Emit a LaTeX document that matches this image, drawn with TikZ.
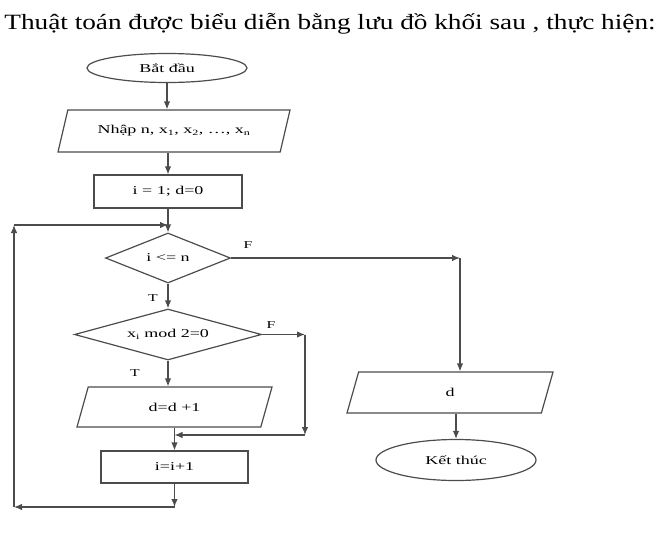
\documentclass[tikz,border=0pt]{standalone}
\usepackage{fontspec}
\setmainfont{Liberation Serif}
\newfontfamily\widefont[FakeStretch=1.5]{Liberation Serif}
\newfontfamily\titlefont[FakeStretch=1.25]{Liberation Serif}
\usetikzlibrary{shapes.geometric, arrows.meta}
\tikzset{
line/.style={draw=black!70, line width=1.2pt}, % every connector
arr/.style={line, -{Latex[length=8pt,width=6.5pt]}}, % connector with a filled head
box/.style={line, font=\widefont\fontsize{12}{14}\selectfont, inner sep=0pt}, % sets the look of every block
}

\begin{document}
\begin{tikzpicture}[x=1pt, y=-1pt,
    term/.style = {box, ellipse},
    io/.style = {box, trapezium, trapezium stretches body},
    proc/.style = {box, rectangle},
    test/.style = {box, diamond},
    tag/.style = {font=\widefont\fontsize{10.5}{12}\selectfont}]
    \useasboundingbox (0,0) rectangle (666,541);
    \node[font=\titlefont\fontsize{21.8}{24}\selectfont] (title) at (330,24) {Thuật toán được biểu diễn bằng lưu đồ khối sau , thực hiện:};

    \node[term, minimum width=160pt, minimum height=29pt] (start) at (167,68) {Bắt đầu};
    \node[io, minimum width=232pt, minimum height=42pt, trapezium left angle=48, trapezium right angle=132] (input) at (174,131) {Nhập n, x\textsubscript{1}, x\textsubscript{2}, \dots, x\textsubscript{n}};
    \node[proc, minimum width=148pt, minimum height=33pt] (init) at (168,191.5) {i = 1; d=0};
    \node[test, aspect=2.5, minimum width=125pt, minimum height=50pt] (cond) at (168,258) {i <= n};
    \node[test, aspect=3.7, minimum width=187pt, minimum height=51pt] (even) at (168,334.5) {x\textsubscript{i} mod 2=0};
    \node[io, minimum width=195pt, minimum height=40pt, trapezium left angle=37, trapezium right angle=143] (inc) at (174.5,407) {d=d +1};
    \node[proc, minimum width=147pt, minimum height=32pt] (step) at (174.5,467) {i=i+1};
    \node[io, minimum width=206pt, minimum height=41pt, trapezium left angle=36, trapezium right angle=144] (out) at (450,392.5) {d};
    \node[term, minimum width=160pt, minimum height=41pt] (end) at (456,460) {Kết thúc};

    \node[tag] (f1) at (248,245) {F};
    \node[tag] (t1) at (153,298) {T};
    \node[tag] (f2) at (271,325) {F};
    \node[tag] (t2) at (135,373) {T};

    \coordinate (j1) at (168,225);
    \coordinate (r1) at (460,258);
    \coordinate (r2) at (305,334.5);
    \coordinate (r3) at (305,435);
    \coordinate (b1) at (174.5,507);
    \coordinate (b2) at (14,507);
    \coordinate (b3) at (14,225);

    \draw[arr] (start.south) -- (start.south |- input.north);
    \draw[arr] (init.north |- input.south) -- (init.north);
    \draw[arr] (init.south) -- (cond.north);
    \draw[arr] (cond.south) -- (even.north);
    \draw[arr] (even.south) -- (even.south |- inc.north);
    \draw[arr] (inc.south) -- (inc.south |- step.north);
    \draw[arr] (cond.east) -- (r1);
    \draw[arr] (r1) -- (r1 |- out.north);
    \draw[arr] (end.north |- out.south) -- (end.north);
    \draw[arr] (even.east) -- (r2);
    \draw[arr] (r2) -- (r3);
    \draw[arr] (r3) -- (r3 -| inc.south);
    \draw[arr] (step.south) -- (b1);
    \draw[arr] (b1) -- (b2);
    \draw[arr] (b2) -- (b3);
    \draw[arr] (b3) -- (j1);
\end{tikzpicture}
\end{document}
